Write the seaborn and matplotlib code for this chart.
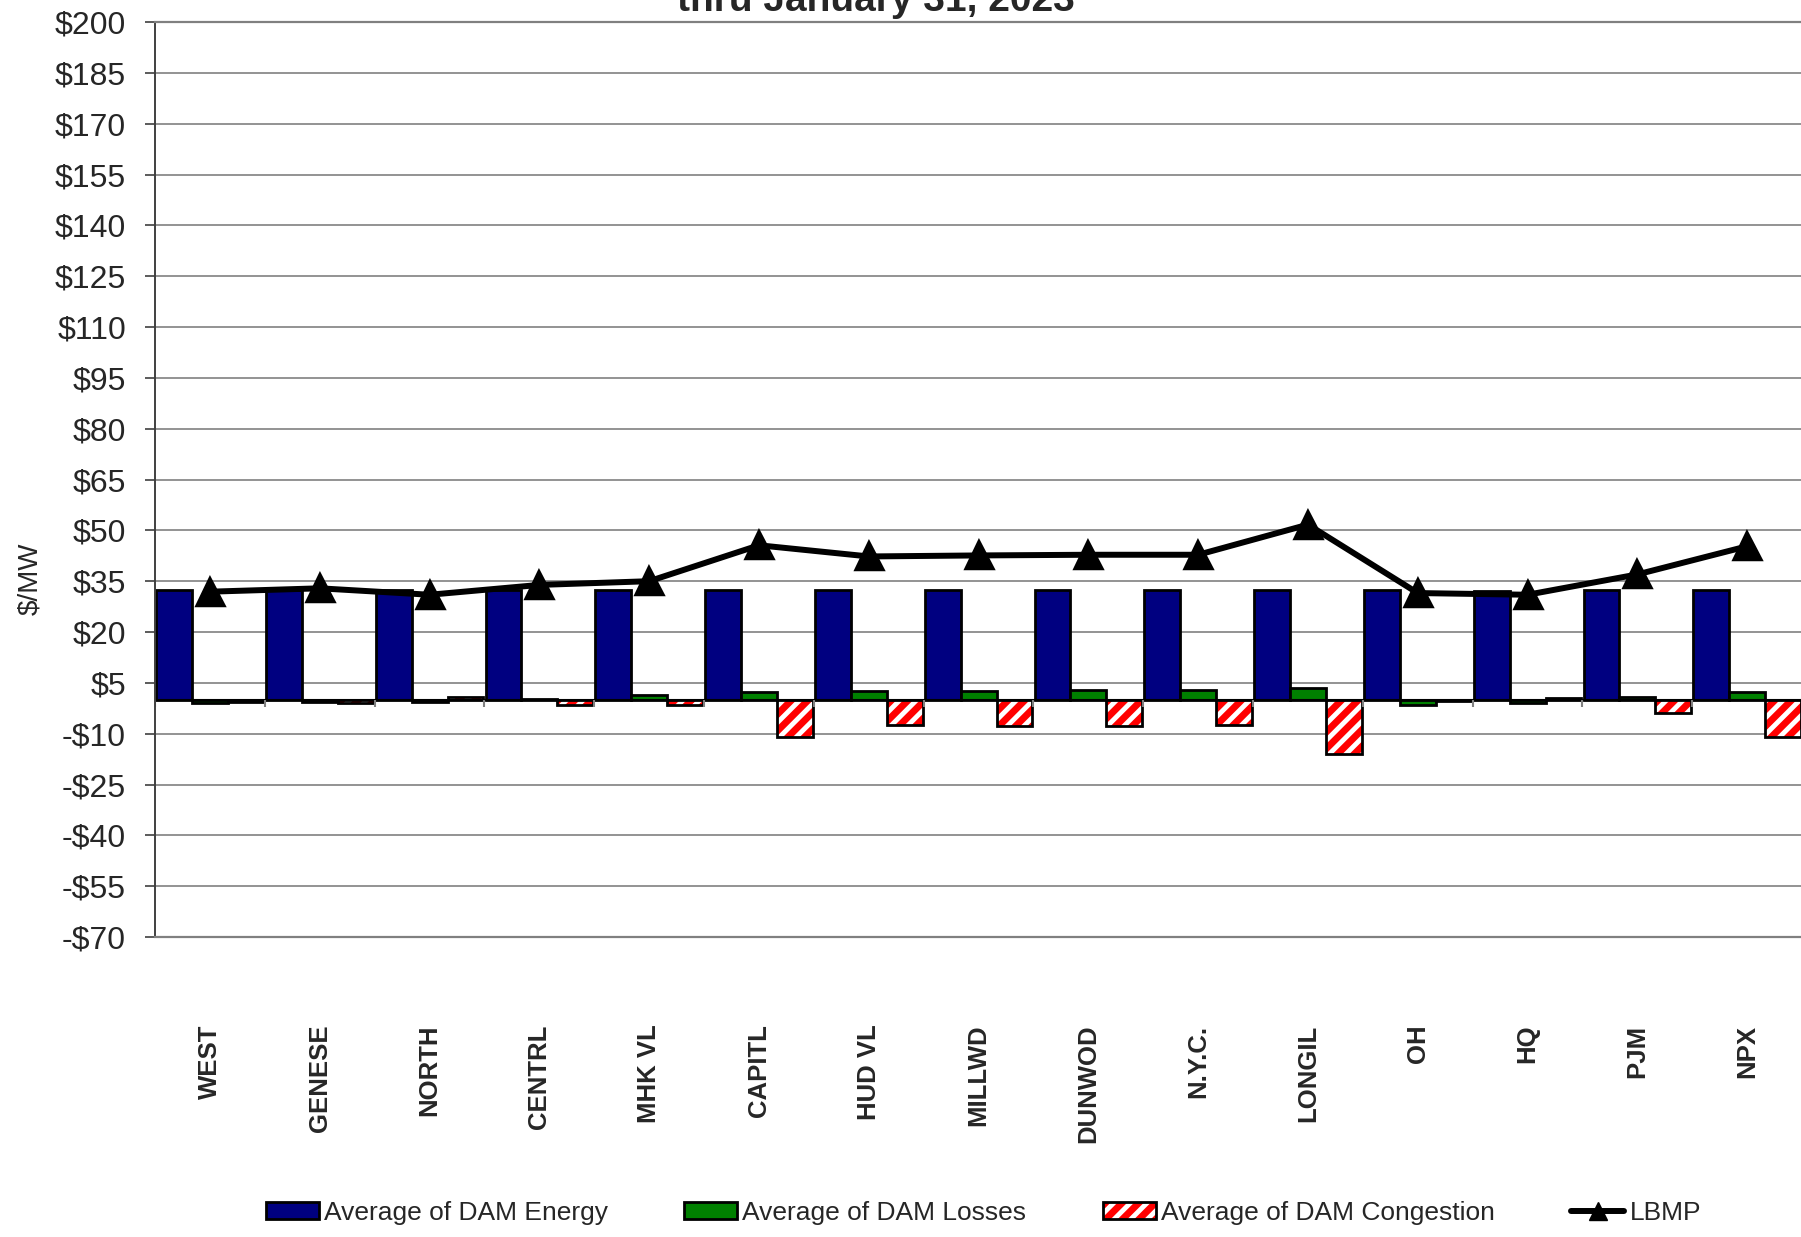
import numpy as np
import pandas as pd
import seaborn as sns
import matplotlib.pyplot as plt
from matplotlib.patches import Rectangle, Patch
from matplotlib.lines import Line2D

sns.set_style("white")
plt.rcParams["font.family"] = ["Liberation Sans", "DejaVu Sans"]
plt.rcParams["hatch.linewidth"] = 3.5

# Data ($/MW)
zones = ["WEST", "GENESE", "NORTH", "CENTRL", "MHK VL", "CAPITL", "HUD VL", "MILLWD",
         "DUNWOD", "N.Y.C.", "LONGIL", "OH", "HQ", "PJM", "NPX"]
energy = [32.4, 32.4, 32.4, 32.4, 32.4, 32.4, 32.4, 32.4, 32.4, 32.4, 32.4, 32.4, 32.0, 32.4, 32.4]
losses = [-1.0, -0.6, -0.7, 0.3, 1.5, 2.2, 2.5, 2.5, 2.9, 2.9, 3.6, -1.5, -0.9, 0.8, 2.2]
congestion = [-0.7, -0.8, 0.8, -1.5, -1.5, -11.1, -7.4, -7.6, -7.6, -7.4, -15.9, -0.4, 0.6, -3.9, -11.1]
lbmp = [31.9, 32.9, 31.0, 33.9, 35.0, 45.6, 42.3, 42.6, 42.8, 42.8, 51.7, 31.5, 31.0, 37.0, 45.3]

series_names = ["Average of DAM Energy", "Average of DAM Losses", "Average of DAM Congestion"]
colors = ["#000080", "#008000", "#ff0000"]

df = pd.concat([
    pd.DataFrame({"zone": zones, "component": series_names[0], "value": energy}),
    pd.DataFrame({"zone": zones, "component": series_names[1], "value": losses}),
    pd.DataFrame({"zone": zones, "component": series_names[2], "value": congestion}),
], ignore_index=True)

fig = plt.figure(figsize=(18.01, 12.37), dpi=100)
ax = fig.add_axes([0.0861, 0.2425, 0.9145, 0.7397])

sns.barplot(data=df, x="zone", y="value", hue="component", order=zones,
            hue_order=series_names, palette=colors, saturation=1, width=0.98,
            edgecolor="black", linewidth=2, errorbar=None, legend=False, ax=ax)

# hatched congestion bars: white stripes on red, black outline on top
for p in ax.containers[2]:
    p.set_hatch("//")
    p.set_edgecolor("white")
    p.set_linewidth(0)
    ax.add_patch(Rectangle(p.get_xy(), p.get_width(), p.get_height(), fill=False,
                           edgecolor="black", linewidth=2, zorder=p.get_zorder() + 0.1))

sns.pointplot(x=zones, y=lbmp, color="black", marker="^", markersize=18,
              linewidth=4.3, errorbar=None, ax=ax)

# category axis at zero with tick marks between categories
ax.axhline(0, color="black", linewidth=1.5, zorder=1.2)
ax.vlines(np.arange(len(zones) + 1) - 0.5, -2, 0, color="#808080", linewidth=1.5)

yt = np.arange(-70, 201, 15)
ax.set_ylim(-70, 200)
ax.set_xlim(-0.5, len(zones) - 0.5)
ax.set_yticks(yt)
ax.set_yticklabels([f"${v}" if v >= 0 else f"-${-v}" for v in yt], fontsize=23)
ax.yaxis.grid(True, color="#808080", linewidth=1.2)
ax.set_axisbelow(True)
ax.tick_params(axis="y", left=True, length=7, width=1.2, color="#404040", pad=14)

ax.set_xticks(range(len(zones)))
ax.set_xticklabels(zones, rotation=90, fontweight="bold", fontsize=18.5)
ax.tick_params(axis="x", length=0, pad=63)
ax.set_xlabel("")
ax.set_ylabel("$/MW", fontsize=20)
ax.yaxis.set_label_coords(-0.068, 0.392)

for s in ["top", "bottom"]:
    ax.spines[s].set_color("#808080")
    ax.spines[s].set_linewidth(1.6)
ax.spines["left"].set_color("#404040")
ax.spines["left"].set_linewidth(1.4)
ax.spines["right"].set_visible(False)

# second title line; the first line lies above the picture in the reference
fig.text(0.4864, 1 - 11 / 1237, "thru January 31, 2023", ha="center", va="baseline",
         fontsize=28, fontweight="bold")

handles = [
    Patch(facecolor=colors[0], edgecolor="black", linewidth=2),
    Patch(facecolor=colors[1], edgecolor="black", linewidth=2),
    (Patch(facecolor=colors[2], edgecolor="white", hatch="//", linewidth=0),
     Patch(facecolor="none", edgecolor="black", linewidth=2)),
    Line2D([], [], color="black", linewidth=4.3, marker="^", markersize=13),
]
fig.legend(handles, series_names + ["LBMP"], loc="center", bbox_to_anchor=(0.546, 0.0194),
           ncol=4, frameon=False, fontsize=19, handlelength=2.0, handleheight=0.6,
           handletextpad=0.2, columnspacing=2.9)

fig.savefig("out.png", dpi=100)
